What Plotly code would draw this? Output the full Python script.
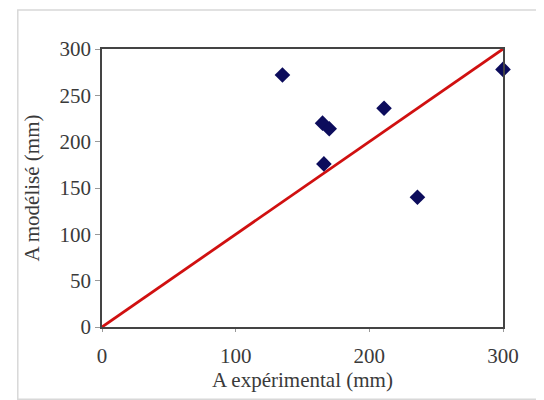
import plotly.graph_objects as go

a_exp = [135, 165, 170, 166, 211, 236, 300]
a_mod = [272, 220, 214, 176, 236, 140, 278]
line_x = [0, 300]
line_y = [0, 300]
ticks = [0, 50, 100, 150, 200, 250, 300]
xticks = [0, 100, 200, 300]

fig = go.Figure()
fig.add_trace(go.Scatter(x=line_x, y=line_y, mode="lines",
                         line=dict(color="#d01010", width=2.8), showlegend=False,
                         cliponaxis=False))
fig.add_trace(go.Scatter(x=a_exp, y=a_mod, mode="markers",
                         marker=dict(symbol="diamond", size=12, color="#0c0c5c"),
                         showlegend=False, cliponaxis=False))

font = dict(family="Liberation Serif, Times New Roman, serif", size=21, color="#3a3a3a")
fig.update_layout(
    width=544, height=400,
    margin=dict(l=94, r=49, t=41, b=81),
    paper_bgcolor="white", plot_bgcolor="white",
    font=font,
    xaxis=dict(range=[0, 300], tickvals=xticks, showgrid=False, zeroline=False,
               showline=True, linecolor="#444444", linewidth=1.5, mirror=True,
               ticks="outside", ticklen=3, tickcolor="#999999",
               ticklabelstandoff=6,
               title=dict(text="A expérimental (mm)", font=font, standoff=5)),
    yaxis=dict(range=[0, 300], tickvals=ticks, showgrid=False, zeroline=False,
               showline=True, linecolor="#444444", linewidth=1.5, mirror=True,
               ticks="outside", ticklen=5, tickcolor="#999999",
               title=dict(text="A modélisé (mm)", font=font, standoff=14)),
    shapes=[dict(type="rect", xref="paper", yref="paper",
                 x0=-0.21, x1=1.13, y0=-0.26, y1=1.14,
                 line=dict(color="#d8d8d8", width=1.5), layer="below")],
)
fig.write_html("out.html")
